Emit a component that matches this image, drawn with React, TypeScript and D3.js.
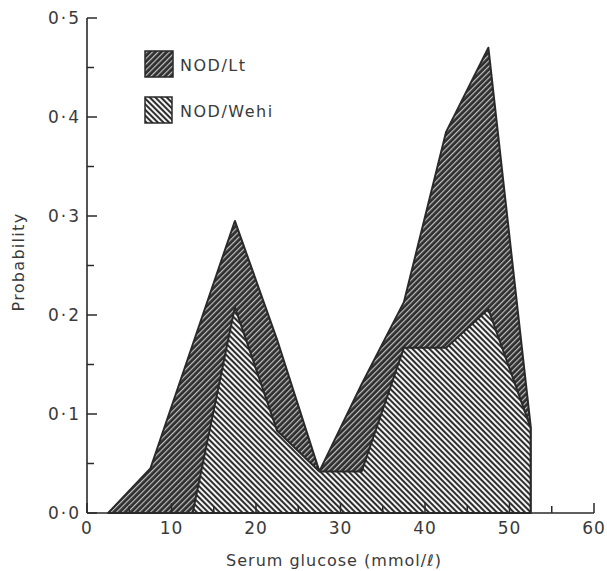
import React from "react";
import * as d3 from "d3";

const binMids = [2.5, 7.5, 12.5, 17.5, 22.5, 27.5, 32.5, 37.5, 42.5, 47.5, 52.5];
const nodLt = [0.0, 0.045, 0.17, 0.295, 0.175, 0.042, 0.13, 0.213, 0.385, 0.47, 0.088];
const nodWehi = [null, null, 0.0, 0.208, 0.083, 0.042, 0.042, 0.167, 0.167, 0.206, 0.086];
const yTicks = [0, 0.1, 0.2, 0.3, 0.4, 0.5];
const yTickLabels = ["0·0", "0·1", "0·2", "0·3", "0·4", "0·5"];
const xTicks = [0, 10, 20, 30, 40, 50, 60];
const seriesNames = ["NOD/Lt", "NOD/Wehi"];

const W = 607;
const H = 571;

export default function App() {
  const x = d3.scaleLinear().domain([0, 60]).range([87, 594]);
  const y = d3.scaleLinear().domain([0, 0.5]).range([513, 18]);

  const ltPts: [number, number][] = binMids.map((m, i) => [m, nodLt[i]]);
  const wehiPts: [number, number][] = binMids
    .map((m, i) => [m, nodWehi[i]] as [number, number | null])
    .filter((d) => d[1] !== null) as [number, number][];

  const area = d3
    .area<[number, number]>()
    .x((d) => x(d[0]))
    .y0(y(0))
    .y1((d) => y(d[1]));

  const yMinor = d3.range(0, 0.5001, 0.05);
  const xMinor = d3.range(0, 60.001, 5);
  const font = "'DejaVu Sans', 'Liberation Sans', sans-serif";
  const ink = "#2a2a2a";
  const txt = "#3a3a3a";

  return (
    <svg width={W} height={H} style={{ position: "absolute", left: 0, top: 0 }}>
      <defs>
        <pattern id="hatchLt" patternUnits="userSpaceOnUse" width="4" height="4" patternTransform="rotate(45)">
          <rect width="4" height="4" fill="#2e2e2e" />
          <rect x="0" y="0" width="1.2" height="4" fill="#c0c0c0" />
        </pattern>
        <pattern id="hatchWehi" patternUnits="userSpaceOnUse" width="4" height="4" patternTransform="rotate(-45)">
          <rect width="4" height="4" fill="#f4f4f4" />
          <rect x="0" y="0" width="2" height="4" fill="#2e2e2e" />
        </pattern>
      </defs>
      <rect width={W} height={H} fill="#fff" />

      <path d={area(ltPts) || ""} fill="url(#hatchLt)" stroke={ink} strokeWidth={2} strokeLinejoin="round" />
      <path d={area(wehiPts) || ""} fill="url(#hatchWehi)" stroke={ink} strokeWidth={2} strokeLinejoin="round" />

      {/* Y axis */}
      <line x1={x(0)} x2={x(0)} y1={y(0)} y2={y(0.5)} stroke={ink} strokeWidth={1.6} />
      {yMinor.map((t, i) => (
        <line key={"ym" + i} x1={x(0)} x2={x(0) + (i % 2 === 0 ? 10 : 7)} y1={y(t)} y2={y(t)} stroke={ink} strokeWidth={1.5} />
      ))}
      {yTicks.map((t, i) => (
        <text key={"yl" + i} x={x(0) - 6} y={y(t)} dy="0.36em" textAnchor="end" fontFamily={font} fontSize={17} letterSpacing={2} fill={txt}>
          {yTickLabels[i]}
        </text>
      ))}

      {/* X axis */}
      <line x1={x(0)} x2={x(60)} y1={y(0)} y2={y(0)} stroke={ink} strokeWidth={1.6} />
      {xMinor.map((t, i) => (
        <line key={"xm" + i} x1={x(t)} x2={x(t)} y1={y(0)} y2={y(0) - (i % 2 === 0 ? 10 : 7)} stroke={ink} strokeWidth={1.5} />
      ))}
      {xTicks.map((t, i) => (
        <text key={"xl" + i} x={x(t)} y={y(0) + 21} textAnchor="middle" fontFamily={font} fontSize={17} letterSpacing={1} fill={txt}>
          {t}
        </text>
      ))}

      <text x={334} y={566} textAnchor="middle" fontFamily={font} fontSize={16} letterSpacing={1} fill={txt}>
        Serum glucose (mmol/ℓ)
      </text>
      <text transform="translate(24,262) rotate(-90)" textAnchor="middle" fontFamily={font} fontSize={16} letterSpacing={1.3} fill={txt}>
        Probability
      </text>

      {/* Legend */}
      <rect x={145} y={51} width={28} height={26} fill="url(#hatchLt)" stroke={ink} strokeWidth={1.5} />
      <text x={180} y={71} fontFamily={font} fontSize={16} letterSpacing={1.5} fill={txt}>{seriesNames[0]}</text>
      <rect x={145} y={97} width={27} height={26} fill="url(#hatchWehi)" stroke={ink} strokeWidth={1.5} />
      <text x={180} y={117} fontFamily={font} fontSize={16} letterSpacing={1.5} fill={txt}>{seriesNames[1]}</text>
    </svg>
  );
}
